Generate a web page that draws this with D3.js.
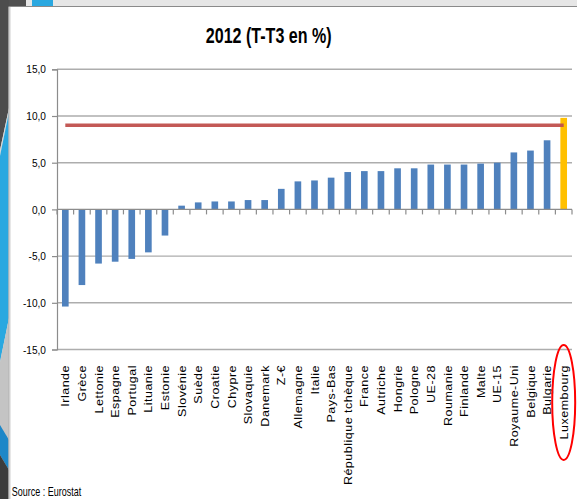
<!DOCTYPE html>
<html lang="fr">
<head>
<meta charset="utf-8">
<script src="https://cdn.jsdelivr.net/npm/d3@7"></script>
<style>
  html, body { margin: 0; padding: 0; background: #ffffff; }
  svg { display: block; }
  text { font-family: "Liberation Sans", Arial, sans-serif; fill: #000; }
</style>
</head>
<body>
<svg id="chart" width="577" height="499"></svg>
<script>
// Croissance 2012, T-T3 en %
const categories = [
  "Irlande", "Grèce", "Lettonie", "Espagne", "Portugal", "Lituanie", "Estonie",
  "Slovénie", "Suède", "Croatie", "Chypre", "Slovaquie", "Danemark", "Z-€",
  "Allemagne", "Italie", "Pays-Bas", "République tchèque", "France", "Autriche",
  "Hongrie", "Pologne", "UE-28", "Roumanie", "Finlande", "Malte", "UE-15",
  "Royaume-Uni", "Belgique", "Bulgarie", "Luxembourg"
];
const values = [
  -10.4, -8.1, -5.8, -5.6, -5.3, -4.6, -2.8,
  0.4, 0.75, 0.85, 0.85, 1.0, 1.0, 2.2,
  3.0, 3.1, 3.4, 4.0, 4.1, 4.1,
  4.4, 4.4, 4.8, 4.8, 4.8, 4.9, 5.0,
  6.1, 6.3, 7.4, 9.8
];
const highlighted = ["Luxembourg"];
const referenceLevel = 9.0;
const yTicks = [-15, -10, -5, 0, 5, 10, 15];
const title = "2012 (T-T3 en %)";
const source = "Source : Eurostat";

const svg = d3.select("#chart");

// slide backdrop
const bg = svg.append("g");
bg.append("rect").attr("x", 0).attr("y", 0).attr("width", 577).attr("height", 499).attr("fill", "#e6e6e6");
bg.append("rect").attr("x", 0).attr("y", 0).attr("width", 26).attr("height", 7).attr("fill", "#505050");
bg.append("rect").attr("x", 32).attr("y", 0).attr("width", 21).attr("height", 7).attr("fill", "#2aa8e0");
bg.append("polygon").attr("points", "0,0 9,0 9,108 0,150").attr("fill", "#4d4d4d");
bg.append("polygon").attr("points", "0,150 9,108 9,112 0,156").attr("fill", "#d8d8d8");
bg.append("polygon").attr("points", "0,156 9,112 9,318 0,362").attr("fill", "#2aa8e0");
bg.append("polygon").attr("points", "0,362 9,318 9,499 0,499").attr("fill", "#c4c4c4");
bg.append("polygon").attr("points", "0,425 9,440 9,470 0,455").attr("fill", "#1d87c8");
bg.append("polygon").attr("points", "0,455 9,470 9,499 0,499").attr("fill", "#3c3c3c");

// chart frame
svg.append("rect").attr("x", 9).attr("y", 6.5).attr("width", 570).attr("height", 500)
  .attr("fill", "#ffffff").attr("stroke", "#8a8a8a").attr("stroke-width", 1);
svg.append("line").attr("x1", 9.5).attr("x2", 9.5).attr("y1", 7).attr("y2", 499)
  .attr("stroke", "#cfcfcf").attr("stroke-width", 2);

// scales
const x = d3.scaleBand().domain(categories).range([57, 572]).paddingInner(0.6).paddingOuter(0.3);
const y = d3.scaleLinear().domain([-15, 15]).range([349.5, 69.3]);
const fmt = v => d3.format(".1f")(v).replace(".", ",").replace("\u2212", "-");

// gridlines
svg.append("g").selectAll("line").data(yTicks.filter(d => d !== 0)).join("line")
  .attr("x1", 57).attr("x2", 572)
  .attr("y1", d => y(d)).attr("y2", d => y(d))
  .attr("stroke", "#adadad").attr("stroke-width", 1.4);

// y axis
const yAxis = svg.append("g").attr("transform", "translate(57,0)")
  .call(d3.axisLeft(y).tickValues(yTicks).tickSize(5).tickPadding(0).tickFormat(() => ""));
yAxis.select(".domain").attr("stroke", "#8c8c8c").attr("stroke-width", 1.2);
yAxis.selectAll(".tick line").attr("stroke", "#8c8c8c").attr("stroke-width", 1.2);

svg.append("g").selectAll("text").data(yTicks).join("text")
  .attr("transform", d => `translate(46,${y(d)}) scale(0.88,1)`)
  .attr("text-anchor", "end").attr("dy", "0.36em")
  .attr("font-size", 11.5)
  .text(d => fmt(d));

// bars
svg.append("g").selectAll("rect").data(categories).join("rect")
  .attr("x", d => x(d))
  .attr("width", x.bandwidth())
  .attr("y", (d, i) => y(Math.max(0, values[i])))
  .attr("height", (d, i) => Math.abs(y(values[i]) - y(0)))
  .attr("fill", d => highlighted.includes(d) ? "#ffc000" : "#4f81bd");

// zero axis with category boundary ticks
const zeroY = y(0);
svg.append("line").attr("x1", 57).attr("x2", 572).attr("y1", zeroY).attr("y2", zeroY)
  .attr("stroke", "#8c8c8c").attr("stroke-width", 1.4);
const bounds = categories.map(c => x(c) - x.bandwidth() * 0.75).concat([572]);
svg.append("g").selectAll("line").data(bounds).join("line")
  .attr("x1", d => d).attr("x2", d => d)
  .attr("y1", zeroY).attr("y2", zeroY + 5)
  .attr("stroke", "#8c8c8c").attr("stroke-width", 1.2);

// reference level
const first = categories[0], last = categories[categories.length - 1];
svg.append("line")
  .attr("x1", x(first) + x.bandwidth() / 2).attr("x2", x(last) + x.bandwidth() / 2)
  .attr("y1", y(referenceLevel)).attr("y2", y(referenceLevel))
  .attr("stroke", "#c0504d").attr("stroke-width", 3.5).attr("stroke-opacity", 0.95);

// category labels
const xAxis = svg.append("g").attr("transform", `translate(0,${y(-15)})`)
  .call(d3.axisBottom(x).tickSize(0));
xAxis.select(".domain").remove();
xAxis.selectAll(".tick text")
  .attr("x", 0).attr("y", 0).attr("dy", "0.35em")
  .attr("transform", "translate(0.5,15.5) rotate(-90) scale(1,0.82)")
  .attr("text-anchor", "end")
  .attr("font-size", 12.5)
  .attr("letter-spacing", "0.5px")
  .attr("font-family", "'Liberation Sans', Arial, sans-serif")
  .attr("fill", "#000");

// title
svg.append("text")
  .attr("transform", "translate(268.7,43) scale(0.73,1)")
  .attr("text-anchor", "middle")
  .attr("font-size", 22).attr("font-weight", "bold")
  .text(title);

// source
svg.append("text")
  .attr("transform", "translate(11.7,496) scale(0.75,1)")
  .attr("font-size", 12)
  .text(source);

// highlight ring
svg.append("ellipse")
  .attr("cx", x(last) + x.bandwidth() / 2).attr("cy", 402.5)
  .attr("rx", 11.5).attr("ry", 57.5)
  .attr("fill", "none").attr("stroke", "#ff0000").attr("stroke-width", 2);
</script>
</body>
</html>
